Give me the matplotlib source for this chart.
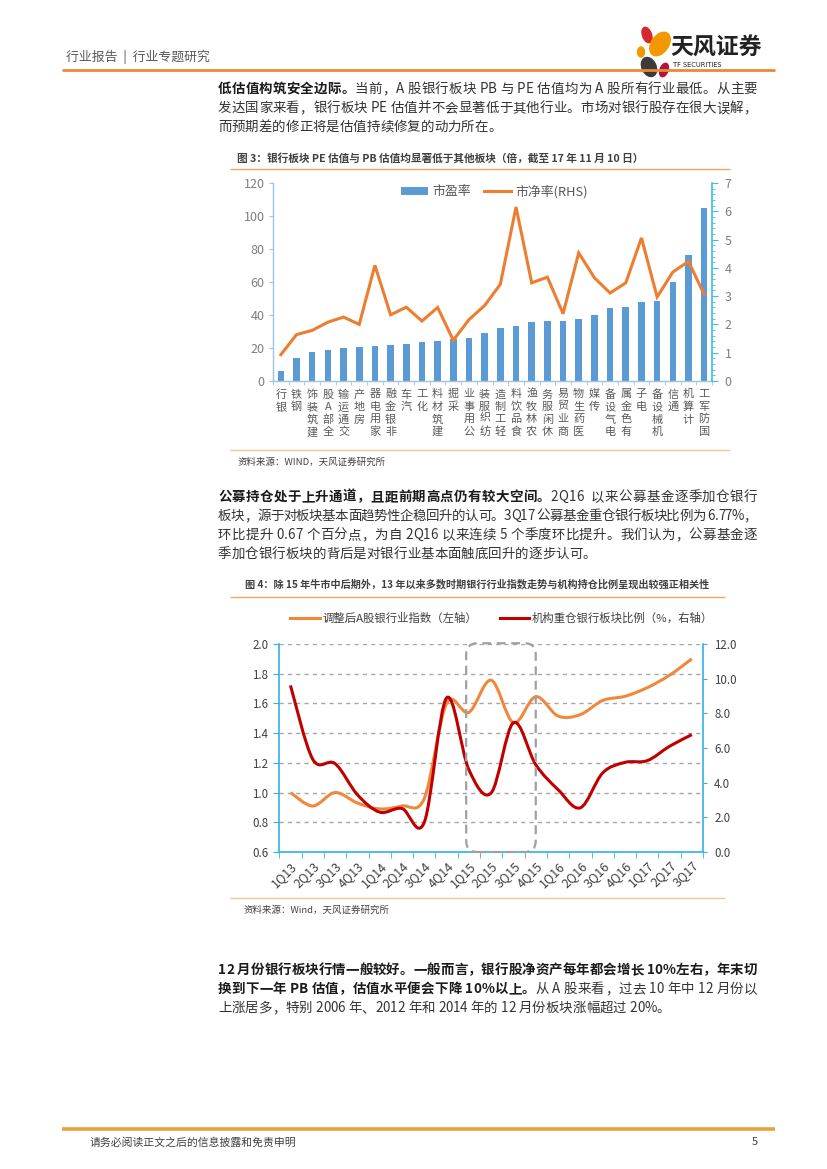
import numpy as np
import matplotlib
matplotlib.use('Agg')
import matplotlib.pyplot as plt
from matplotlib.patches import FancyBboxPatch, Ellipse, PathPatch
from matplotlib.path import Path
from matplotlib.lines import Line2D
from matplotlib.font_manager import FontProperties
import matplotlib.transforms as mtransforms
from matplotlib.ticker import MultipleLocator, FormatStrFormatter

FAM = ['Noto Sans CJK SC', 'DejaVu Sans']
plt.rcParams['font.family'] = FAM

W, H = 827, 1169

# ---------------- data: chart 1 ----------------
sectors = ['银行', '钢铁', '建筑装饰', '全部A股', '交通运输', '房地产', '家用电器', '非银金融',
           '汽车', '化工', '建筑材料', '采掘', '公用事业', '纺织服装', '轻工制造', '食品饮料',
           '农林牧渔', '休闲服务', '商业贸易', '医药生物', '传媒', '电气设备', '有色金属', '电子',
           '机械设备', '通信', '计算机', '国防军工']
pe = [6.3, 14.1, 17.4, 19.0, 19.8, 20.8, 21.4, 22.0, 22.2, 23.8, 24.0, 25.3, 26.3, 29.1,
      32.1, 33.1, 35.8, 36.2, 36.6, 37.4, 40.0, 44.2, 44.6, 47.7, 48.7, 60.0, 76.6, 104.6]
pb = [0.93, 1.64, 1.79, 2.08, 2.26, 2.00, 4.09, 2.34, 2.61, 2.12, 2.60, 1.44, 2.17, 2.67,
      3.42, 6.15, 3.47, 3.67, 2.38, 4.53, 3.65, 3.11, 3.47, 5.06, 2.97, 3.85, 4.23, 3.06]

# ---------------- data: chart 2 ----------------
quarters = ['1Q13', '2Q13', '3Q13', '4Q13', '1Q14', '2Q14', '3Q14', '4Q14', '1Q15', '2Q15',
            '3Q15', '4Q15', '1Q16', '2Q16', '3Q16', '4Q16', '1Q17', '2Q17', '3Q17']
bank_index = [1.00, 0.91, 1.00, 0.93, 0.89, 0.91, 0.96, 1.60, 1.54, 1.756, 1.47, 1.645,
              1.515, 1.525, 1.62, 1.648, 1.706, 1.79, 1.90]
fund_ratio = [9.61, 5.35, 5.10, 3.31, 2.30, 2.51, 1.71, 8.89, 4.75, 3.41, 7.46, 5.04,
              3.60, 2.55, 4.56, 5.17, 5.27, 6.10, 6.77]

fig = plt.figure(figsize=(8.27, 11.69), dpi=100)
fig.patch.set_facecolor('white')
renderer = fig.canvas.get_renderer()


def fx(x):
    return x / W


def fy(y):
    return 1 - y / H


def hline(x0, x1, y, color, lw):
    fig.add_artist(Line2D([fx(x0), fx(x1)], [fy(y), fy(y)], transform=fig.transFigure,
                          color=color, lw=lw, solid_capstyle='butt'))


_adv_cache = {}


def char_advance(ch, bold, size):
    key = (ch, bold, size)
    if key not in _adv_cache:
        prop = FontProperties(family=FAM, size=size, weight='bold' if bold else 'normal')
        w1, _, _ = renderer.get_text_width_height_descent('|' + ch + '|', prop, ismath=False)
        w0, _, _ = renderer.get_text_width_height_descent('||', prop, ismath=False)
        _adv_cache[key] = w1 - w0
    return _adv_cache[key]


def rich_line(x, y, segments, size, right=None):
    chars = []
    for txt, bold, color in segments:
        for ch in txt:
            chars.append((ch, bold, color, char_advance(ch, bold, size)))
    natural = sum(c[3] for c in chars)
    extra = 0.0
    if right is not None and len(chars) > 1:
        extra = (right - x - natural) / (len(chars) - 1)
    cur = x
    for ch, bold, color, adv in chars:
        if ch != ' ':
            fig.text(fx(cur + adv / 2), fy(y), ch, fontsize=size, family=FAM,
                     fontweight='bold' if bold else 'normal', color=color,
                     ha='center', va='center')
        cur += adv + extra


BODY = 9.7
NORM = '#333333'
BOLD = '#1a1a1a'
RIGHT = 757

# ---------------- header ----------------
fig.text(fx(66), fy(57), '行业报告  |  行业专题研究', fontsize=9.3, color='#595959',
         ha='left', va='center')
hline(62, 775, 70, '#EB8A35', 2.0)
px = mtransforms.Affine2D().scale(1 / W, 1 / H) + fig.transFigure
petals = [((647, 35), 9, 16, 20, '#D7282F'),
          ((660, 44), 17, 26, -35, '#F39800'),
          ((649, 67), 14, 20, 25, '#3E3A39'),
          ((664, 70), 8, 14, -20, '#B5133E'),
          ((641, 52), 7, 10, 0, '#F39800')]
for (cx, cy), w_, h_, ang, col in petals:
    fig.add_artist(Ellipse((cx, H - cy), w_, h_, angle=ang, color=col, transform=px))
fig.text(fx(670), fy(48), '天风证券', fontsize=16.5, fontweight='bold', color='#222222',
         ha='left', va='center')
fig.text(fx(673), fy(65), 'TF SECURITIES', fontsize=4.8, color='#222222',
         ha='left', va='center', family=['DejaVu Sans'])

# ---------------- paragraph 1 ----------------
rich_line(218, 89, [('低估值构筑安全边际。', True, BOLD),
                    ('当前，A 股银行板块 PB 与 PE 估值均为 A 股所有行业最低。从主要', False, NORM)],
          BODY, right=RIGHT)
rich_line(218, 108, [('发达国家来看，银行板块 PE 估值并不会显著低于其他行业。市场对银行股存在很大误解，',
                      False, NORM)], BODY, right=RIGHT)
rich_line(218, 127, [('而预期差的修正将是估值持续修复的动力所在。', False, NORM)], BODY)

# ---------------- chart 1 ----------------
fig.text(fx(237), fy(158), '图 3：银行板块 PE 估值与 PB 估值均显著低于其他板块（倍，截至 17 年 11 月 10 日）',
         fontsize=7.7, fontweight='bold', color='#404040', ha='left', va='center')
hline(230, 730, 169, '#EDA462', 1.0)

ax1 = fig.add_axes([fx(273), fy(381), (712 - 273) / W, (381 - 183) / H])
x1 = np.arange(len(sectors))
bars = ax1.bar(x1, pe, width=0.42, color='#5B9BD5', label='市盈率', zorder=2)
ax1.set_xlim(-0.5, len(sectors) - 0.5)
ax1.set_ylim(0, 120)
ax1.yaxis.set_major_locator(MultipleLocator(20))
ax1.set_xticks(x1)
ax1.set_xticklabels(['\n'.join(reversed(list(s))) for s in sectors],
                    fontsize=8, color='#595959', va='top', linespacing=1.28)
ax1.set_xticks(np.arange(-0.5, len(sectors), 1.0), minor=True)
ax1.tick_params(axis='x', which='major', length=0, pad=6)
ax1.tick_params(axis='x', which='minor', length=3, color='#9DC3E6', direction='out')
ax1.tick_params(axis='y', which='major', length=3, color='#9DC3E6', labelsize=9,
                labelcolor='#7F7F7F', pad=3)
for sp in ['top', 'right']:
    ax1.spines[sp].set_visible(False)
ax1.spines['left'].set_color('#9DC3E6')
ax1.spines['bottom'].set_color('#9DC3E6')
ax1.spines['left'].set_linewidth(1.0)
ax1.spines['bottom'].set_linewidth(1.0)

ax1r = ax1.twinx()
ln, = ax1r.plot(x1, pb, color='#ED7D31', lw=2.2, label='市净率(RHS)', zorder=3,
                solid_joinstyle='miter')
ax1r.set_ylim(0, 7)
ax1r.yaxis.set_major_locator(MultipleLocator(1))
ax1r.yaxis.set_minor_locator(MultipleLocator(0.2))
for sp in ['top', 'left', 'bottom']:
    ax1r.spines[sp].set_visible(False)
ax1r.spines['right'].set_color('#3BBDE8')
ax1r.spines['right'].set_linewidth(1.2)
ax1r.tick_params(axis='y', which='major', length=4, color='#3BBDE8', labelsize=9,
                 labelcolor='#7F7F7F', pad=5)
ax1r.tick_params(axis='y', which='minor', length=2.5, color='#3BBDE8')
ax1.legend([bars, ln], ['市盈率', '市净率(RHS)'], loc='upper center', bbox_to_anchor=(0.505, 1.05),
           ncol=2, frameon=False, fontsize=9.3, labelcolor='#595959', handlelength=2.1,
           handleheight=0.6, columnspacing=1.0, handletextpad=0.35)

hline(230, 730, 450, '#F2C49A', 1.0)
fig.text(fx(237), fy(462), '资料来源：WIND，天风证券研究所', fontsize=6.8, color='#404040',
         ha='left', va='center')

# ---------------- paragraph 2 ----------------
rich_line(218, 497, [('公募持仓处于上升通道，且距前期高点仍有较大空间。', True, BOLD),
                     ('2Q16  以来公募基金逐季加仓银行', False, NORM)], BODY, right=RIGHT)
rich_line(218, 516, [('板块，源于对板块基本面趋势性企稳回升的认可。3Q17 公募基金重仓银行板块比例为 6.77%，',
                      False, NORM)], BODY, right=RIGHT)
rich_line(218, 535, [('环比提升 0.67 个百分点，为自 2Q16 以来连续 5 个季度环比提升。我们认为，公募基金逐',
                      False, NORM)], BODY, right=RIGHT)
rich_line(218, 554, [('季加仓银行板块的背后是对银行业基本面触底回升的逐步认可。', False, NORM)], BODY)

# ---------------- chart 2 ----------------
fig.text(fx(245), fy(584), '图 4：除 15 年牛市中后期外，13 年以来多数时期银行行业指数走势与机构持仓比例呈现出较强正相关性',
         fontsize=7.3, fontweight='bold', color='#404040', ha='left', va='center')
hline(230, 725, 597, '#EDA462', 1.0)


def smooth_path(xs, ys):
    pts = np.column_stack([xs, ys]).astype(float)
    n = len(pts)
    verts = [pts[0]]
    codes = [Path.MOVETO]
    for i in range(n - 1):
        p0 = pts[i - 1] if i > 0 else pts[i]
        p1 = pts[i]
        p2 = pts[i + 1]
        p3 = pts[i + 2] if i + 2 < n else pts[i + 1]
        c1 = p1 + (p2 - p0) / 6.0
        c2 = p2 - (p3 - p1) / 6.0
        verts += [c1, c2, p2]
        codes += [Path.CURVE4] * 3
    return Path(verts, codes)


ax2 = fig.add_axes([fx(279.3), fy(852), (703 - 279.3) / W, (852 - 644) / H])
x2 = np.arange(len(quarters))
ax2.set_xlim(-0.5, len(quarters) - 0.5)
ax2.set_ylim(0.6, 2.0)
ax2.set_yticks(np.round(np.arange(0.6, 2.01, 0.2), 1))
ax2.yaxis.set_major_formatter(FormatStrFormatter('%.1f'))
ax2.set_xticks(x2)
ax2.set_xticklabels(quarters, rotation=45, ha='right', va='top', rotation_mode='anchor',
                    fontsize=9, color='#404040')
ax2.set_xticks(np.arange(-0.5, len(quarters), 1.0), minor=True)
ax2.tick_params(axis='x', which='major', length=0, pad=5)
ax2.tick_params(axis='x', which='minor', length=4, color='#2FB3E6')
ax2.tick_params(axis='y', length=4, color='#2FB3E6', labelsize=8.3, labelcolor='#404040', pad=4)
ax2.grid(axis='y', color='#A6A6A6', linestyle=(0, (3, 3)), lw=1.0)
ax2.set_axisbelow(True)
for sp in ['top', 'right']:
    ax2.spines[sp].set_visible(False)
for sp in ['left', 'bottom']:
    ax2.spines[sp].set_color('#2FB3E6')
    ax2.spines[sp].set_linewidth(1.2)
ax2.add_patch(PathPatch(smooth_path(x2, bank_index), fill=False, edgecolor='#F0883C', lw=2.2,
                        zorder=3))

ax2r = ax2.twinx()
ax2r.set_ylim(0, 12)
ax2r.yaxis.set_major_locator(MultipleLocator(2))
ax2r.yaxis.set_major_formatter(FormatStrFormatter('%.1f'))
ax2r.tick_params(axis='y', length=3, color='#2FB3E6', labelsize=8.3, labelcolor='#404040', pad=5)
for sp in ['top', 'left', 'bottom']:
    ax2r.spines[sp].set_visible(False)
ax2r.spines['right'].set_color('#2FB3E6')
ax2r.spines['right'].set_linewidth(1.2)
ax2r.add_patch(PathPatch(smooth_path(x2, fund_ratio), fill=False, edgecolor='#C00000', lw=2.2,
                         zorder=3))

# dashed highlight box around 1Q15-4Q15
(bx0, by0) = ax2.transData.transform((7.88, 0.6))
(bx1, by1) = ax2.transData.transform((11.0, 2.005))
box = FancyBboxPatch((bx0, by0), bx1 - bx0, by1 - by0,
                     boxstyle='round,pad=0,rounding_size=11', fill=False,
                     edgecolor='#A0A0A0', lw=1.6, linestyle=(0, (4, 2.5)),
                     transform=mtransforms.IdentityTransform(), zorder=5)
fig.add_artist(box)

h_or = Line2D([], [], color='#F0883C', lw=2.2)
h_rd = Line2D([], [], color='#C00000', lw=2.2)
ax2.legend([h_or, h_rd], ['调整后A股银行业指数（左轴）', '机构重仓银行板块比例（%，右轴）'],
           loc='center', bbox_to_anchor=(0.525, 1.125), ncol=2, frameon=False, fontsize=8.2,
           labelcolor='#404040', handlelength=2.6, columnspacing=2.0, handletextpad=0.2)

hline(230, 725, 898, '#F2C49A', 1.0)
fig.text(fx(244), fy(910), '资料来源：Wind，天风证券研究所', fontsize=6.8, color='#404040',
         ha='left', va='center')

# ---------------- paragraph 3 ----------------
rich_line(218, 970, [('12 月份银行板块行情一般较好。一般而言，银行股净资产每年都会增长 10%左右，年末切',
                      True, BOLD)], BODY, right=RIGHT)
rich_line(218, 989, [('换到下一年 PB 估值，估值水平便会下降 10%以上。', True, BOLD),
                     ('从 A 股来看，过去 10 年中 12 月份以', False, NORM)], BODY, right=RIGHT)
rich_line(218, 1008, [('上涨居多，特别 2006 年、2012 年和 2014 年的 12 月份板块涨幅超过 20%。',
                       False, NORM)], BODY)

# ---------------- footer ----------------
hline(62, 775, 1129, '#E9A23B', 2.6)
fig.text(fx(90), fy(1142), '请务必阅读正文之后的信息披露和免责申明', fontsize=7.8, color='#404040',
         ha='left', va='center')
fig.text(fx(752), fy(1142), '5', fontsize=8, color='#404040', ha='left', va='center')

fig.savefig('out.png', dpi=100, facecolor='white')
